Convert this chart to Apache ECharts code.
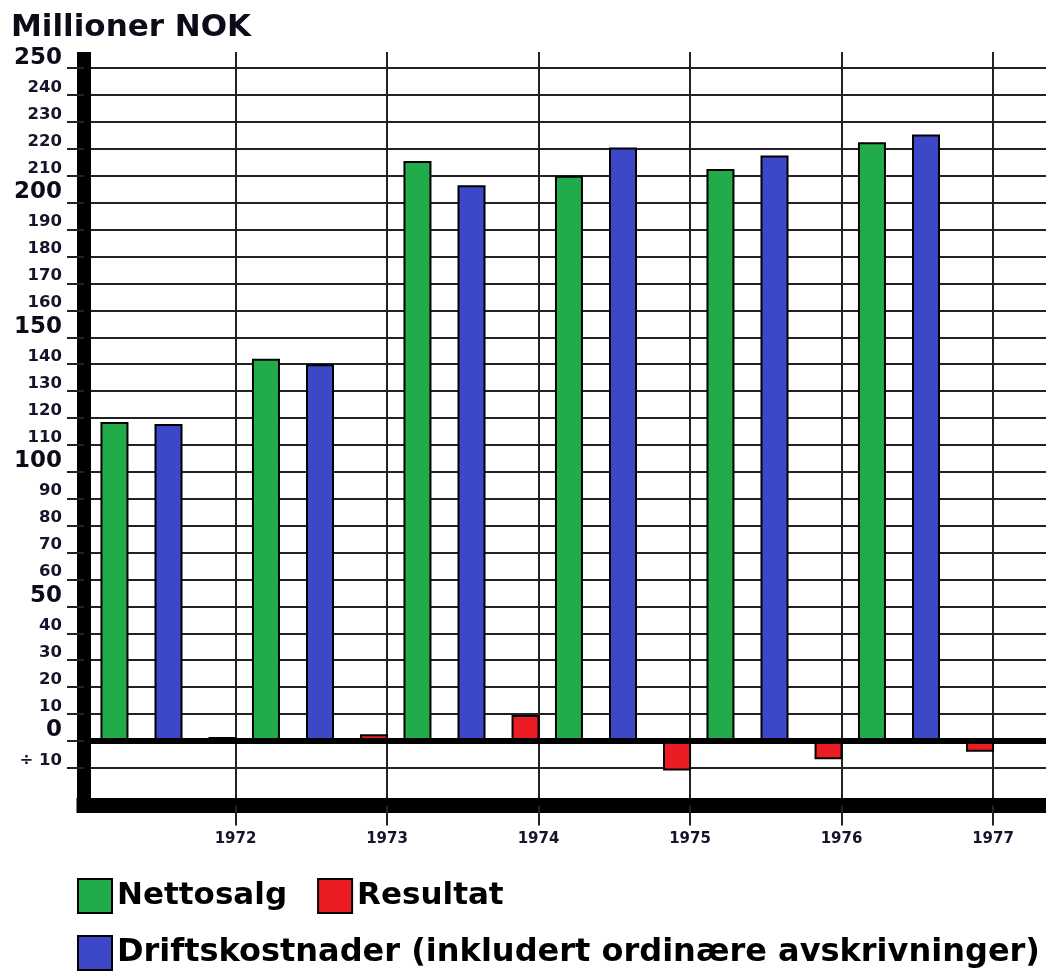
<!DOCTYPE html>
<html>
<head>
<meta charset="utf-8">
<title>Millioner NOK</title>
<script src="https://cdn.jsdelivr.net/npm/echarts@6/dist/echarts.min.js"></script>
<style>
  html, body { margin: 0; padding: 0; background: #fff; }
  #chart { width: 1046px; height: 973px; }
</style>
</head>
<body>
<div id="chart"></div>
<script>
// year marks on the vertical lines
const yearLabels = ["1972", "1973", "1974", "1975", "1976", "1977"];
const yearLines = [1, 2, 3, 4, 5, 6];
// one bar group before each year line
const barGroups = ["1972", "1973", "1974", "1975", "1976", "1977"];

const nettosalg = [118.5, 142, 215.5, 210, 212.5, 222.5];
const driftskostnader = [117.8, 140, 206.5, 220.5, 217.5, 225.3];
const resultat = [1.5, 2.5, 9.6, -11, -6.8, -4];

const yTicks = [250, 240, 230, 220, 210, 200, 190, 180, 170, 160, 150, 140, 130,
  120, 110, 100, 90, 80, 70, 60, 50, 40, 30, 20, 10, 0, -10];
const bigTicks = [250, 200, 150, 100, 50, 0];

const FONT = "DejaVu Sans";
const GREEN = "#22ab4b";
const BLUE = "#3d48c9";
const RED = "#ec1c24";

const W = 1046;
const GROUP = 151.5; // px per year
const LEFT = 84;

const chart = echarts.init(document.getElementById("chart"), null, { renderer: "canvas" });

const option = {
  animation: false,
  backgroundColor: "#fff",
  title: {
    text: "Millioner NOK",
    left: 11,
    top: 12,
    padding: 0,
    textStyle: { fontFamily: FONT, fontSize: 31, fontWeight: "bold", color: "#0b0b1a" },
  },
  grid: [
    // frame: axes, grid lines, labels
    { left: LEFT, right: 0, top: 52, bottom: 167.5, outerBoundsMode: "none", containLabel: false },
    // bars, shifted a little to the right inside each year
    {
      left: LEFT + 8.75,
      right: W - (LEFT + 8.75 + GROUP * barGroups.length),
      top: 52,
      bottom: 167.5,
      outerBoundsMode: "none",
      containLabel: false,
    },
  ],
  xAxis: [
    {
      type: "value",
      gridIndex: 0,
      min: 0,
      max: (W - LEFT) / GROUP,
      position: "bottom",
      axisLine: { show: true, onZero: false, lineStyle: { color: "#000", width: 15, cap: "square" } },
      axisTick: { show: true, customValues: yearLines, length: 20, lineStyle: { color: "#222", width: 2 } },
      axisLabel: {
        customValues: yearLines,
        margin: 26,
        fontFamily: FONT,
        fontSize: 15,
        fontWeight: "bold",
        color: "#14142a",
        formatter: (v) => yearLabels[v - 1] || "",
      },
      splitLine: { show: true, lineStyle: { color: "#222", width: 2 } },
    },
    {
      type: "category",
      gridIndex: 1,
      data: barGroups,
      show: false,
    },
  ],
  yAxis: [
    {
      type: "value",
      gridIndex: 0,
      min: -24,
      max: 256,
      offset: 2,
      axisLine: { show: true, lineStyle: { color: "#000", width: 14, cap: "butt" } },
      axisTick: { show: true, customValues: yTicks, length: 17, lineStyle: { color: "#222", width: 2 } },
      axisLabel: {
        customValues: yTicks,
        margin: 20,
        verticalAlign: "bottom",
        formatter: (v) => {
          if (v < 0) return "{small|÷ " + Math.abs(v) + "}";
          return bigTicks.includes(v) ? "{big|" + v + "}" : "{small|" + v + "}";
        },
        rich: {
          big: { fontFamily: FONT, fontSize: 23, lineHeight: 21, fontWeight: "bold", color: "#0b0b1a" },
          small: { fontFamily: FONT, fontSize: 16.5, lineHeight: 15, fontWeight: "bold", color: "#14142a" },
        },
      },
      splitLine: { show: true, lineStyle: { color: "#222", width: 2 } },
    },
    {
      type: "value",
      gridIndex: 1,
      min: -24,
      max: 256,
      show: false,
      splitLine: { show: false },
    },
  ],
  legend: [
    {
      data: ["Nettosalg", "Resultat"],
      left: 77,
      top: 878,
      padding: 0,
      icon: "rect",
      itemWidth: 34,
      itemHeight: 34,
      itemGap: 30,
      selectedMode: false,
      itemStyle: { borderColor: "#000", borderWidth: 2 },
      textStyle: { fontFamily: FONT, fontSize: 31, fontWeight: "bold", color: "#000" },
    },
    {
      data: ["Driftskostnader (inkludert ordinære avskrivninger)"],
      left: 77,
      top: 935,
      padding: 0,
      icon: "rect",
      itemWidth: 34,
      itemHeight: 34,
      selectedMode: false,
      itemStyle: { borderColor: "#000", borderWidth: 2 },
      textStyle: { fontFamily: FONT, fontSize: 32, fontWeight: "bold", color: "#000" },
    },
  ],
  series: [
    {
      name: "Nettosalg",
      type: "bar",
      xAxisIndex: 1,
      yAxisIndex: 1,
      data: nettosalg,
      barWidth: 28,
      barGap: "93%",
      itemStyle: { color: GREEN, borderColor: "#000", borderWidth: 2 },
    },
    {
      name: "Driftskostnader (inkludert ordinære avskrivninger)",
      type: "bar",
      xAxisIndex: 1,
      yAxisIndex: 1,
      data: driftskostnader,
      barWidth: 28,
      barGap: "93%",
      itemStyle: { color: BLUE, borderColor: "#000", borderWidth: 2 },
    },
    {
      name: "Resultat",
      type: "bar",
      xAxisIndex: 1,
      yAxisIndex: 1,
      data: resultat,
      barWidth: 28,
      barGap: "93%",
      itemStyle: { color: RED, borderColor: "#000", borderWidth: 2 },
    },
    {
      // thick zero line
      name: "",
      type: "line",
      xAxisIndex: 0,
      yAxisIndex: 0,
      data: [],
      markLine: {
        silent: true,
        symbol: ["none", "none"],
        label: { show: false },
        lineStyle: { color: "#000", width: 6, type: "solid" },
        data: [{ yAxis: 0 }],
      },
    },
  ],
};

chart.setOption(option);
window.addEventListener("resize", () => chart.resize());
</script>
</body>
</html>
